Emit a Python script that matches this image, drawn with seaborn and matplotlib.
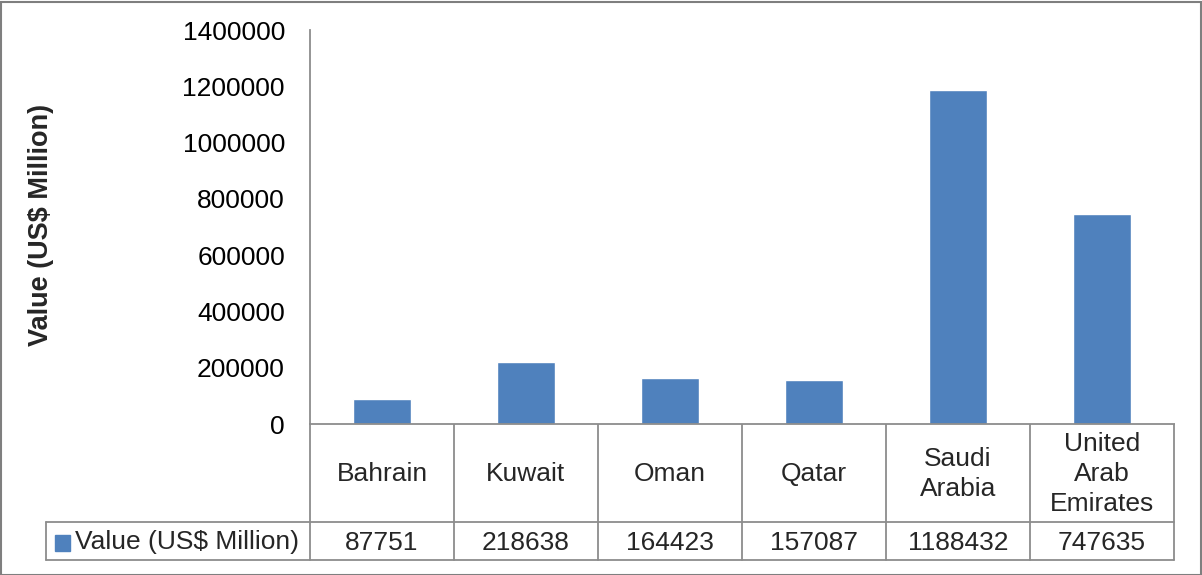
import matplotlib
matplotlib.use("Agg")
import matplotlib.pyplot as plt
import seaborn as sns
import pandas as pd
from matplotlib.patches import Rectangle

categories = ["Bahrain", "Kuwait", "Oman", "Qatar", "Saudi\nArabia", "United\nArab\nEmirates"]
values = [87751, 218638, 164423, 157087, 1188432, 747635]
series_name = "Value (US$ Million)"
yticks = [0, 200000, 400000, 600000, 800000, 1000000, 1200000, 1400000]

sns.set_theme(style="white")
plt.rcParams['font.family'] = ['Liberation Sans', 'DejaVu Sans']

W, H = 1202, 575
fig = plt.figure(figsize=(W / 100, H / 100), dpi=100)
BAR = "#4F81BD"
GRID = "#8C8C8C"
FS = 19

# plot area in pixels
L, R, T, B = 310, 1174, 30, 424
ax = fig.add_axes([L / W, 1 - B / H, (R - L) / W, (B - T) / H])
df = pd.DataFrame({"country": categories, "value": values})
sns.barplot(data=df, x="country", y="value", color=BAR, width=0.4, ax=ax, saturation=1)
ax.set_xlim(-0.5, len(categories) - 0.5)
ax.set_ylim(0, 1400000)
ax.set_yticks(yticks)
ax.set_yticklabels([str(v) for v in yticks], fontsize=FS, color="black")
ax.tick_params(axis="y", length=0, pad=18)
ax.set_xticks([])
ax.set_xlabel("")
ax.set_ylabel("")
for s in ["top", "right"]:
    ax.spines[s].set_visible(False)
ax.spines["left"].set_color(GRID)
ax.spines["bottom"].set_color(GRID)
ax.spines["left"].set_linewidth(1.3)
ax.spines["bottom"].set_linewidth(1.3)

# overlay in pixel coordinates for the data table
ov = fig.add_axes([0, 0, 1, 1], zorder=-1)
ov.set_xlim(0, W)
ov.set_ylim(H, 0)
ov.axis("off")

def xpix(xd):
    disp = ax.transData.transform((xd, 0))
    return fig.transFigure.inverted().transform(disp)[0] * W

row1_top, row1_bot, row2_bot = 424, 522, 560
tab_left = 46
bounds = [xpix(i - 0.5) for i in range(len(categories) + 1)]
lw = 1.3
for bx in bounds:
    ov.plot([bx, bx], [row1_top, row2_bot], color=GRID, lw=lw)
ov.plot([tab_left, bounds[-1]], [row1_bot, row1_bot], color=GRID, lw=lw)
ov.plot([tab_left, bounds[-1]], [row2_bot, row2_bot], color=GRID, lw=lw)
ov.plot([tab_left, tab_left], [row1_bot, row2_bot], color=GRID, lw=lw)

for i, (c, v) in enumerate(zip(categories, values)):
    cx = xpix(i)
    ov.text(cx, (row1_top + row1_bot) / 2 + 1, c, ha="center", va="center",
            fontsize=FS, linespacing=1.32)
    ov.text(cx, (row1_bot + row2_bot) / 2 + 2, str(v), ha="center", va="center", fontsize=FS)

ov.add_patch(Rectangle((55, 535), 15, 16, color=BAR))
ov.text(75, (row1_bot + row2_bot) / 2 + 1, series_name, ha="left", va="center", fontsize=FS)

# y axis title
ov.text(41, 225, "Value (US$ Million)", rotation=90, ha="center", va="center",
        fontsize=19.5, fontweight="bold")

# outer border
fig.patches.append(Rectangle((0.5 / W, 0.5 / H), (W - 2) / W, (H - 2) / H,
                             transform=fig.transFigure, fill=False,
                             edgecolor="#7F7F7F", lw=1.5))

fig.savefig("out.png", dpi=100)
